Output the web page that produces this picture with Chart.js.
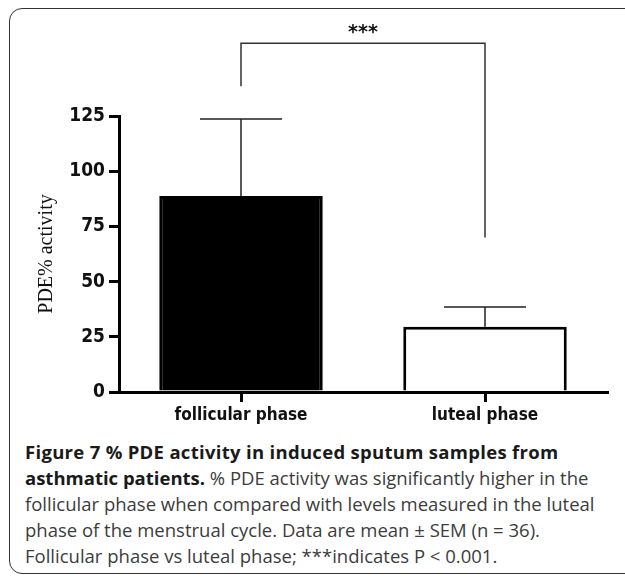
<!DOCTYPE html>
<html>
<head>
<meta charset="utf-8">
<script src="https://cdn.jsdelivr.net/npm/chart.js@4"></script>
<style>
  body { margin: 0; background: #fff; }
  #wrap { position: relative; width: 625px; height: 576px; overflow: hidden; }
  #frame { position: absolute; left: 9px; top: 8px; width: 700px; height: 564px;
           border: 1.5px solid #333; border-radius: 13px; }
  #chart { position: absolute; left: 0; top: 0; }
  #caption { position: absolute; left: 25px; top: 439px; width: 600px;
             font-family: 'Open Sans', sans-serif; font-size: 18.5px; line-height: 26px;
             color: #3c3c3c; white-space: nowrap; }
  #caption b { color: #1a1a1a; }
  #caption .first { letter-spacing: 0.3px; }
</style>
</head>
<body>
<div id="wrap">
  <div id="frame"></div>
  <canvas id="chart" width="625" height="430"></canvas>
  <div id="caption"><b><span class="first">Figure 7 % PDE activity in induced sputum samples from</span><br>asthmatic patients.</b> % PDE activity was significantly higher in the<br>follicular phase when compared with levels measured in the luteal<br>phase of the menstrual cycle. Data are mean ± SEM (n = 36).<br>Follicular phase vs luteal phase; ***indicates P &lt; 0.001.</div>
</div>
<script>
    // data
    const categories = ['follicular phase', 'luteal phase'];
    const means = [88.8, 29.5];
    const sems = [34.8, 9.0];
    const barColors = ['#000000', '#ffffff'];
    // significance bracket (in axis units)
    const bracketTop = 158;
    const bracketLegs = [138.5, 70];
    const bracketLabel = '***';

    const tickFont = "'Liberation Sans Narrow', 'DejaVu Sans Condensed', sans-serif";

    const errorBarPlugin = {
        id: 'errorBars',
        afterDatasetsDraw(chart) {
            const ctx = chart.ctx;
            const y = chart.scales.y;
            const bars = chart.getDatasetMeta(0).data;
            ctx.save();
            ctx.strokeStyle = '#222';
            ctx.lineWidth = 1.5;
            bars.forEach(function(bar, i) {
                const top = y.getPixelForValue(means[i] + sems[i]);
                const base = y.getPixelForValue(means[i]);
                ctx.beginPath();
                ctx.moveTo(bar.x, base);
                ctx.lineTo(bar.x, top);
                ctx.moveTo(bar.x - 41, top);
                ctx.lineTo(bar.x + 41, top);
                ctx.stroke();
            });

            // bracket between the two groups
            const yt = y.getPixelForValue(bracketTop);
            ctx.strokeStyle = '#333';
            ctx.beginPath();
            ctx.moveTo(bars[0].x, y.getPixelForValue(bracketLegs[0]));
            ctx.lineTo(bars[0].x, yt);
            ctx.lineTo(bars[1].x, yt);
            ctx.lineTo(bars[1].x, y.getPixelForValue(bracketLegs[1]));
            ctx.stroke();

            ctx.fillStyle = '#111';
            ctx.font = "bold 19px 'DejaVu Sans', sans-serif";
            ctx.textAlign = 'center';
            ctx.textBaseline = 'middle';
            ctx.fillText(bracketLabel, (bars[0].x + bars[1].x) / 2, yt - 10);
            ctx.restore();
        }
    };

    const ctx = document.getElementById('chart').getContext('2d');
    const chart = new Chart(ctx, {
        type: 'bar',
        data: {
            labels: categories,
            datasets: [{
                data: means,
                backgroundColor: barColors,
                borderColor: '#000',
                borderWidth: 3,
                barPercentage: 0.67,
                categoryPercentage: 1.0
            }]
        },
        options: {
            responsive: false,
            animation: false,
            layout: { padding: { left: 0, right: 18, top: 116, bottom: 0 } },
            plugins: {
                legend: { display: false },
                tooltip: { enabled: false }
            },
            scales: {
                x: {
                    grid: { offset: false, drawOnChartArea: false, tickLength: 10, lineWidth: 3, color: '#000' },
                    border: { color: '#000', width: 3 },
                    ticks: { color: '#111', padding: 3, font: { family: tickFont, size: 17, weight: 'bold' } },
                    afterFit: function(s) { s.height = 38; }
                },
                y: {
                    min: 0,
                    max: 125,
                    ticks: { stepSize: 25, color: '#111', padding: 4, font: { family: tickFont, size: 19, weight: 'bold' } },
                    grid: { drawOnChartArea: false, tickLength: 10, lineWidth: 3, color: '#000' },
                    border: { color: '#000', width: 3 },
                    title: {
                        display: true,
                        text: 'PDE% activity',
                        color: '#111',
                        font: { family: "'Liberation Serif', serif", size: 20 },
                        padding: { top: 35, bottom: 0 }
                    },
                    afterFit: function(s) { s.width = 119; }
                }
            }
        },
        plugins: [errorBarPlugin]
    });
</script>
</body>
</html>
